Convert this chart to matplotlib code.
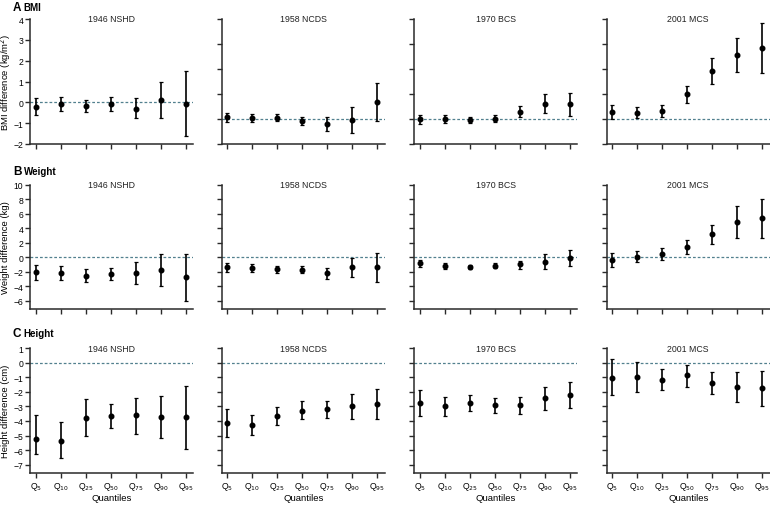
import matplotlib
matplotlib.use("Agg")
import matplotlib.pyplot as plt
from matplotlib import font_manager
import numpy as np

_names = {f.name for f in font_manager.fontManager.ttflist}
_fam = 'Liberation Sans Narrow' if 'Liberation Sans Narrow' in _names else 'Liberation Sans'
plt.rcParams['font.family'] = [_fam, 'DejaVu Sans']
SC = 1.12 if _fam == 'Liberation Sans Narrow' else 1.0

cohorts = ["1946 NSHD", "1958 NCDS", "1970 BCS", "2001 MCS"]
quantile_labels = ["Q$_{5}$", "Q$_{10}$", "Q$_{25}$", "Q$_{50}$", "Q$_{75}$", "Q$_{90}$", "Q$_{95}$"]

# BMI difference (kg/m2): estimate, lower, upper
bmi_est = [
    [-0.21, -0.08, -0.16, -0.08, -0.30, 0.13, -0.08],
    [0.07, 0.04, 0.05, -0.09, -0.20, -0.03, 0.68],
    [0.00, 0.00, -0.05, 0.01, 0.29, 0.60, 0.59],
    [0.29, 0.24, 0.32, 1.00, 1.93, 2.55, 2.83],
]
bmi_lo = [
    [-0.62, -0.40, -0.45, -0.40, -0.77, -0.75, -1.63],
    [-0.13, -0.12, -0.08, -0.25, -0.48, -0.57, -0.09],
    [-0.20, -0.16, -0.15, -0.13, 0.07, 0.23, 0.11],
    [0.00, 0.03, 0.07, 0.64, 1.39, 1.87, 1.83],
]
bmi_hi = [
    [0.19, 0.24, 0.13, 0.24, 0.19, 1.00, 1.49],
    [0.24, 0.21, 0.19, 0.08, 0.07, 0.49, 1.43],
    [0.16, 0.15, 0.10, 0.15, 0.51, 0.99, 1.05],
    [0.56, 0.49, 0.56, 1.33, 2.45, 3.23, 3.83],
]

# Weight difference (kg)
wt_est = [
    [-2.07, -2.16, -2.53, -2.34, -2.16, -1.75, -2.71],
    [-1.42, -1.47, -1.70, -1.74, -2.20, -1.42, -1.38],
    [-0.87, -1.24, -1.38, -1.15, -1.01, -0.60, -0.14],
    [-0.37, 0.09, 0.46, 1.38, 3.13, 4.92, 5.38],
]
wt_lo = [
    [-3.10, -3.13, -3.45, -3.13, -3.68, -3.91, -5.98],
    [-2.02, -2.02, -2.20, -2.25, -2.98, -2.75, -3.44],
    [-1.33, -1.66, -1.70, -1.56, -1.60, -1.66, -1.24],
    [-1.38, -0.64, -0.37, 0.41, 1.79, 2.62, 2.62],
]
wt_hi = [
    [-1.06, -1.15, -1.60, -1.52, -0.69, 0.41, 0.50],
    [-0.87, -0.96, -1.24, -1.24, -1.47, -0.09, 0.55],
    [-0.41, -0.87, -1.06, -0.78, -0.46, 0.37, 0.97],
    [0.60, 0.87, 1.24, 2.39, 4.46, 7.13, 8.09],
]

# Height difference (cm)
ht_est = [
    [-5.25, -5.37, -3.78, -3.65, -3.62, -3.74, -3.74],
    [-4.15, -4.27, -3.69, -3.28, -3.19, -3.00, -2.84],
    [-2.78, -2.98, -2.73, -2.87, -2.89, -2.45, -2.22],
    [-1.01, -0.99, -1.15, -0.87, -1.38, -1.67, -1.74],
]
ht_lo = [
    [-6.26, -6.58, -5.02, -4.50, -4.89, -5.16, -5.96],
    [-5.11, -4.95, -4.31, -3.88, -3.81, -3.85, -3.85],
    [-3.69, -3.65, -3.30, -3.42, -3.49, -3.26, -3.14],
    [-2.22, -2.00, -1.86, -1.63, -2.11, -2.71, -2.94],
]
ht_hi = [
    [-3.62, -4.10, -2.52, -2.80, -2.41, -2.29, -1.56],
    [-3.19, -3.56, -3.07, -2.66, -2.61, -2.16, -1.83],
    [-1.86, -2.32, -2.18, -2.41, -2.32, -1.63, -1.33],
    [0.23, 0.05, -0.41, -0.14, -0.62, -0.60, -0.53],
]

row_titles = [("A", "BMI"), ("B", "Weight"), ("C", "Height")]
y_labels = ["BMI difference (kg/m$^2$)", "Weight difference (kg)", "Height difference (cm)"]

W, H = 770, 506
fig = plt.figure(figsize=(W / 100, H / 100), dpi=100)

col_x = [30, 221.7, 414.3, 606.7]
ax_w = 163
row_y = [(20, 145), (185.7, 310), (349.3, 474.3)]
title_y = [8, 172, 334]

rows = [
    (bmi_est, bmi_lo, bmi_hi),
    (wt_est, wt_lo, wt_hi),
    (ht_est, ht_lo, ht_hi),
]

def ylims(r, c):
    if r == 0:
        return ((-2, 4), np.arange(-2, 5, 1)) if c == 0 else ((-1, 4), np.arange(-1, 5, 1))
    if r == 1:
        return (-7.15, 10), np.arange(-6, 11, 2)
    return (-7.6, 1), np.arange(-7, 2, 1)

spine_col = "#2a2a2a"
dash_col = "#52808f"
x = np.arange(len(quantile_labels))

for r in range(3):
    est_all, lo_all, hi_all = rows[r]
    top, bot = row_y[r]
    for c in range(4):
        ax = fig.add_axes([col_x[c] / W, 1 - bot / H, ax_w / W, (bot - top) / H])
        est = np.array(est_all[c])
        lo = np.array(lo_all[c])
        hi = np.array(hi_all[c])
        ax.axhline(0, color=dash_col, lw=0.9, ls=(0, (2.2, 1.6)), zorder=1)
        ax.errorbar(x, est, yerr=[est - lo, hi - est], fmt='o', color='black',
                    ms=3.3, elinewidth=1.2, capsize=1.5, capthick=0.9, zorder=3)
        (yl, yt) = ylims(r, c)
        ax.set_ylim(*yl)
        ax.set_yticks(yt)
        ax.set_xlim(-0.225, 6.3)
        ax.set_xticks(x)
        for s in ["top", "right"]:
            ax.spines[s].set_visible(False)
        for s in ["left", "bottom"]:
            ax.spines[s].set_color(spine_col)
            ax.spines[s].set_linewidth(1.1)
        ax.tick_params(axis='both', direction='out', length=3.5, width=1.0,
                       color=spine_col, labelsize=6.2 * SC, pad=1.2)
        if c == 0:
            ax.set_yticklabels([f"{int(v)}" if v >= 0 else f"\u2212{int(-v)}" for v in yt])
            ax.set_ylabel(y_labels[r], fontsize=6.8 * SC, va='center')
            ax.yaxis.set_label_coords(-(30 - 6) / ax_w, 0.5)
        else:
            ax.set_yticklabels([])
        if r == 2:
            ax.set_xticklabels(quantile_labels, fontsize=6.2 * SC)
            ax.set_xlabel("Quantiles", fontsize=6.8 * SC, va='center')
            ax.xaxis.set_label_coords(0.5, -(499 - bot) / (bot - top))
        else:
            ax.set_xticklabels([])
        ax.text(0.5, 1.0, cohorts[c], transform=ax.transAxes, ha='center',
                va='center', fontsize=6.3 * SC, color='#222222')
    letter, name = row_titles[r]
    ty = title_y[r]
    fig.text(13 / W, 1 - ty / H, letter, fontsize=8.5 * SC, fontweight='bold', va='center', ha='left')
    fig.text(23.5 / W, 1 - ty / H, name, fontsize=7 * SC, fontweight='bold', va='center', ha='left')

fig.savefig("out.png", dpi=100)
